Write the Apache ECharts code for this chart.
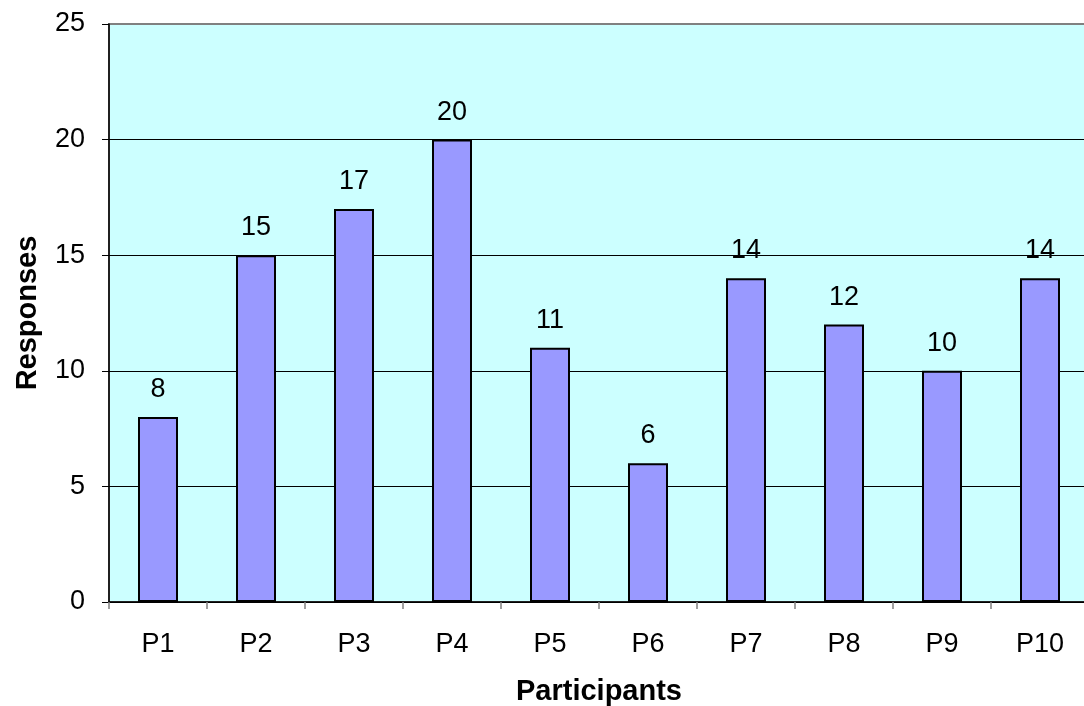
<!DOCTYPE html>
<html>
<head>
<meta charset="utf-8">
<script src="https://cdn.jsdelivr.net/npm/echarts@6/dist/echarts.min.js"></script>
<style>
html,body{margin:0;padding:0;background:#fff;}
#chart{width:1084px;height:706px;}
</style>
</head>
<body>
<div id="chart"></div>
<script>
// Responses per participant
const participants = ['P1','P2','P3','P4','P5','P6','P7','P8','P9','P10'];
const responses = [8, 15, 17, 20, 11, 6, 14, 12, 10, 14];
const yTicks = { min: 0, max: 25, interval: 5 };

const chart = echarts.init(document.getElementById('chart'));
const font = 'Arial, "Liberation Sans", sans-serif';

chart.setOption({
  animation: false,
  grid: {
    left: 109, top: 24, width: 980, height: 578,
    outerBoundsMode: 'none',
    containLabel: false,
    show: true,
    backgroundColor: '#CCFFFF',
    borderColor: '#808080',
    borderWidth: 2
  },
  xAxis: {
    type: 'category',
    data: participants,
    name: 'Participants',
    nameLocation: 'middle',
    nameGap: 75,
    nameTextStyle: { fontFamily: font, fontSize: 29, fontWeight: 'bold', color: '#000' },
    axisLine: { lineStyle: { color: '#000', width: 1.5 } },
    axisTick: { show: true, length: 7, lineStyle: { color: '#808080', width: 1.5 } },
    axisLabel: { fontFamily: font, fontSize: 27, color: '#000', margin: 29 },
    splitLine: { show: false }
  },
  yAxis: {
    type: 'value',
    min: yTicks.min, max: yTicks.max, interval: yTicks.interval,
    name: 'Responses',
    nameLocation: 'middle',
    nameGap: 67,
    nameTextStyle: { fontFamily: font, fontSize: 29, fontWeight: 'bold', color: '#000' },
    axisLine: { show: true, lineStyle: { color: '#000', width: 1.5 } },
    axisTick: { show: true, length: 7, lineStyle: { color: '#000', width: 1 } },
    axisLabel: { fontFamily: font, fontSize: 27, color: '#000', margin: 24 },
    splitLine: {
      show: true,
      lineStyle: { color: ['#000', '#000', '#000', '#000', '#000', '#808080'], width: 1 }
    }
  },
  series: [{
    type: 'bar',
    data: responses,
    barWidth: 40,
    itemStyle: { color: '#9999FF', borderColor: '#000', borderWidth: 2 },
    label: {
      show: true, position: 'top', distance: 14,
      fontFamily: font, fontSize: 27, color: '#000'
    }
  }]
});
</script>
</body>
</html>
